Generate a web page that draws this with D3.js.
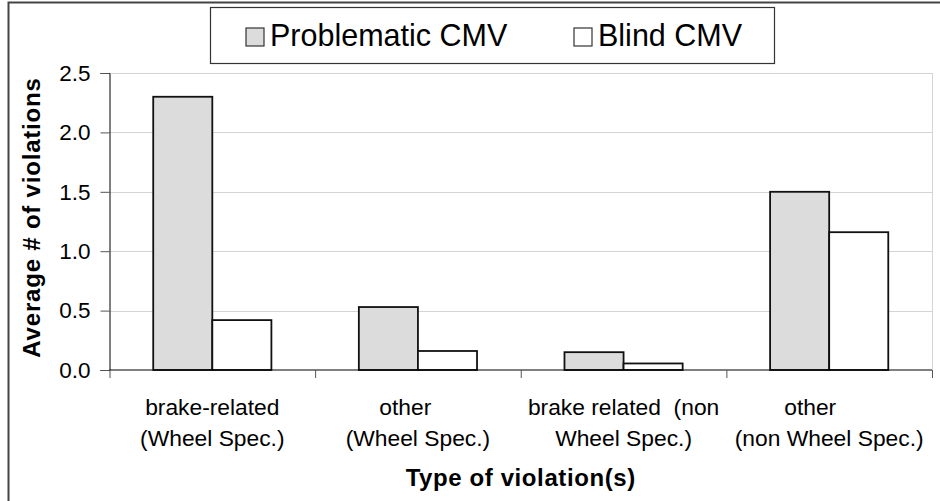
<!DOCTYPE html>
<html>
<head>
<meta charset="utf-8">
<script src="https://cdn.jsdelivr.net/npm/d3@7"></script>
<style>
  body { margin: 0; background: #fff; }
  svg { font-family: "Liberation Sans", Arial, sans-serif; }
  text { white-space: pre; }
</style>
</head>
<body>
<div id="chart"></div>
<script>
// categories (each label split in two lines, trailing spaces as in the original)
const categories = ['brake-wheel', 'other-wheel', 'brake-nonwheel', 'other-nonwheel'];
const categoryLabels = [
  ['brake-related', '(Wheel Spec.)'],
  ['other    ', '(Wheel Spec.)'],
  ['brake related  (non', 'Wheel Spec.)'],
  ['other      ', '(non Wheel Spec.)']
];
const seriesNames = ['Problematic CMV', 'Blind CMV'];
const problematic = [2.3, 0.53, 0.15, 1.5];
const blind = [0.42, 0.16, 0.055, 1.16];
const yTicks = [0, 0.5, 1.0, 1.5, 2.0, 2.5];

const width = 940, height = 501;
const plot = {left: 109.5, right: 932, top: 73, bottom: 370};
const fills = ['#dcdcdc', '#ffffff'];

const svg = d3.select('#chart').append('svg')
    .attr('width', width)
    .attr('height', height);

// outer frame (only left and top edges fall inside the picture)
svg.append('path')
    .attr('d', `M8.5,${height}V2.5H${width}`)
    .attr('fill', 'none')
    .attr('stroke', '#444')
    .attr('stroke-width', 2);

const x0 = d3.scaleBand()
    .domain(categories)
    .range([plot.left, plot.right])
    .padding(0);

const x1 = d3.scaleBand()
    .domain(seriesNames)
    .range([0, x0.bandwidth()])
    .paddingInner(0)
    .paddingOuter(0.74);

const y = d3.scaleLinear()
    .domain([0, 2.5])
    .range([plot.bottom, plot.top]);

// gridlines
svg.append('g')
    .selectAll('line')
    .data(yTicks.filter(d => d > 0))
    .enter().append('line')
      .attr('x1', plot.left)
      .attr('x2', plot.right)
      .attr('y1', d => Math.round(y(d)) + 0.5)
      .attr('y2', d => Math.round(y(d)) + 0.5)
      .attr('stroke', '#d4d4d4');

// right edge of plot area
svg.append('line')
    .attr('x1', plot.right + 0.5)
    .attr('x2', plot.right + 0.5)
    .attr('y1', plot.top)
    .attr('y2', plot.bottom)
    .attr('stroke', '#d4d4d4');

// bars
const rows = categories.map((c, i) => ({
  cat: c,
  values: [problematic[i], blind[i]]
}));

const group = svg.append('g')
    .selectAll('g')
    .data(rows)
    .enter().append('g')
      .attr('transform', d => `translate(${x0(d.cat)},0)`);

group.selectAll('rect')
    .data(d => d.values.map((v, j) => ({name: seriesNames[j], value: v, j})))
    .enter().append('rect')
      .attr('x', d => x1(d.name))
      .attr('y', d => y(d.value))
      .attr('width', x1.bandwidth())
      .attr('height', d => y(0) - y(d.value))
      .attr('fill', d => fills[d.j])
      .attr('stroke', '#111')
      .attr('stroke-width', 1.8);

// y axis
const yAxis = svg.append('g')
    .attr('transform', `translate(${plot.left},0)`)
    .call(d3.axisLeft(y)
        .tickValues(yTicks)
        .tickFormat(d3.format('.1f'))
        .tickSize(9)
        .tickPadding(10));
yAxis.select('.domain').attr('stroke', '#000');
yAxis.selectAll('.tick line').attr('stroke', '#555');
yAxis.selectAll('.tick text')
    .attr('font-size', 22.5)
    .attr('font-family', '"Liberation Sans", Arial, sans-serif')
    .attr('fill', '#000');

// x axis
const xAxis = svg.append('g')
    .attr('transform', `translate(0,${plot.bottom})`);
xAxis.append('line')
    .attr('x1', plot.left)
    .attr('x2', plot.right)
    .attr('stroke', '#000');
xAxis.selectAll('line.tick')
    .data(categories.map(c => x0(c)).concat([plot.right]))
    .enter().append('line')
      .attr('class', 'tick')
      .attr('x1', d => d + 0.5)
      .attr('x2', d => d + 0.5)
      .attr('y1', 0)
      .attr('y2', 8)
      .attr('stroke', '#555');

const labels = xAxis.selectAll('text.cat')
    .data(categories)
    .enter().append('text')
      .attr('class', 'cat')
      .attr('text-anchor', 'middle')
      .attr('font-size', 22.8)
      .attr('fill', '#000');
labels.selectAll('tspan')
    .data((d, i) => categoryLabels[i].map(t => ({t, x: x0(d) + x0.bandwidth() / 2})))
    .enter().append('tspan')
      .attr('x', d => d.x)
      .attr('y', (d, i) => 45 + i * 31)
      .text(d => d.t);

// axis titles
svg.append('text')
    .attr('x', (plot.left + plot.right) / 2)
    .attr('y', 486)
    .attr('text-anchor', 'middle')
    .attr('font-size', 24)
    .attr('font-weight', 'bold')
    .attr('letter-spacing', 0.6)
    .text('Type of violation(s)');

svg.append('text')
    .attr('transform', `translate(40,${(plot.top + plot.bottom) / 2 - 4}) rotate(-90)`)
    .attr('text-anchor', 'middle')
    .attr('font-size', 24)
    .attr('font-weight', 'bold')
    .attr('letter-spacing', 0.8)
    .text('Average # of violations');

// legend
const legend = svg.append('g');
legend.append('rect')
    .attr('x', 210.5)
    .attr('y', 7.5)
    .attr('width', 564)
    .attr('height', 56)
    .attr('fill', '#fff')
    .attr('stroke', '#333')
    .attr('stroke-width', 1.2);

const legendX = [246, 574];
const item = legend.selectAll('g.item')
    .data(seriesNames)
    .enter().append('g')
      .attr('class', 'item')
      .attr('transform', (d, i) => `translate(${legendX[i]},28)`);
item.append('rect')
    .attr('width', 18)
    .attr('height', 18)
    .attr('fill', (d, i) => fills[i])
    .attr('stroke', '#333')
    .attr('stroke-width', 1.2);
item.append('text')
    .attr('x', 24)
    .attr('y', 17.5)
    .attr('font-size', 30.5)
    .attr('fill', '#000')
    .text(d => d);
</script>
</body>
</html>
